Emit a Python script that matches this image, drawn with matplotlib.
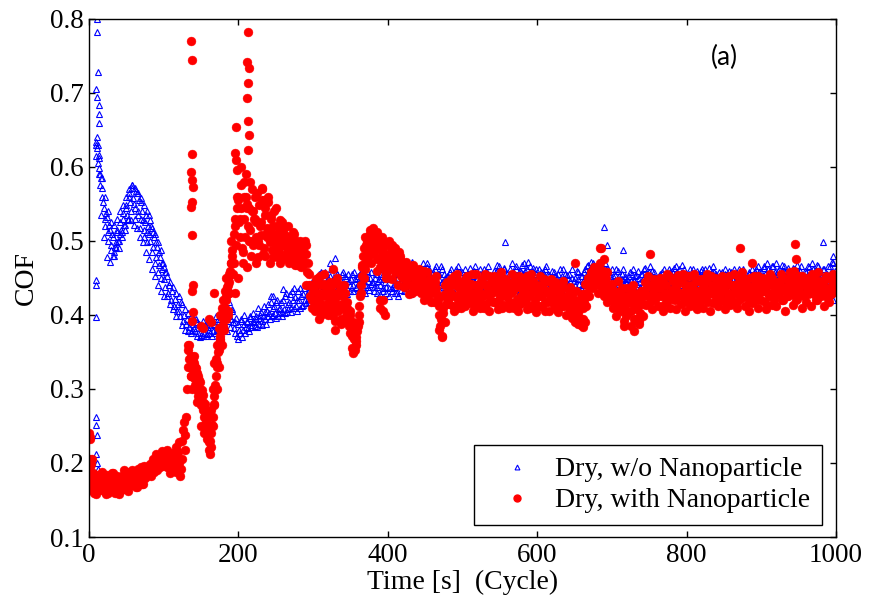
import numpy as np
import matplotlib
matplotlib.use("Agg")
import matplotlib.pyplot as plt
from matplotlib.lines import Line2D

# ---------------------------------------------------------------
# Coefficient of friction logged once per second; the readings are
# kept in two interleaved lists (even seconds 0..998, odd 1..999).
# ---------------------------------------------------------------
cof_plain_even = [
    0.163, 0.170, 0.166, 0.172, 0.168, 0.615, 0.630, 0.598, 0.585, 0.560,
    0.545, 0.520, 0.532, 0.500, 0.515, 0.488, 0.505, 0.480, 0.498, 0.512,
    0.490, 0.525, 0.505, 0.538, 0.515, 0.548, 0.528, 0.560, 0.540, 0.572,
    0.550, 0.530, 0.565, 0.540, 0.518, 0.552, 0.528, 0.505, 0.535, 0.512,
    0.535, 0.500, 0.518, 0.492, 0.510, 0.478, 0.498, 0.468, 0.488, 0.462,
    0.465, 0.438, 0.452, 0.430, 0.445, 0.420, 0.438, 0.412, 0.430, 0.405,
    0.425, 0.398, 0.415, 0.392, 0.408, 0.388, 0.402, 0.384, 0.398, 0.380,
    0.395, 0.378, 0.390, 0.375, 0.386, 0.373, 0.392, 0.376, 0.388, 0.374,
    0.390, 0.376, 0.394, 0.378, 0.386, 0.398, 0.380, 0.392, 0.378, 0.385,
    0.398, 0.384, 0.410, 0.392, 0.418, 0.395, 0.405, 0.382, 0.390, 0.372,
    0.388, 0.375, 0.395, 0.380, 0.400, 0.384, 0.392, 0.378, 0.398, 0.386,
    0.402, 0.385, 0.395, 0.410, 0.388, 0.404, 0.392, 0.412, 0.394, 0.406,
    0.415, 0.395, 0.425, 0.400, 0.412, 0.396, 0.420, 0.402, 0.410, 0.398,
    0.420, 0.402, 0.430, 0.408, 0.418, 0.404, 0.432, 0.410, 0.424, 0.406,
    0.432, 0.410, 0.426, 0.414, 0.436, 0.416, 0.428, 0.418, 0.438, 0.420,
    0.442, 0.422, 0.448, 0.428, 0.455, 0.432, 0.445, 0.425, 0.458, 0.435,
    0.450, 0.430, 0.462, 0.436, 0.445, 0.428, 0.455, 0.438, 0.448, 0.432,
    0.458, 0.436, 0.450, 0.428, 0.446, 0.440, 0.455, 0.432, 0.448, 0.438,
    0.452, 0.434, 0.458, 0.440, 0.446, 0.430, 0.460, 0.438, 0.450, 0.442,
    0.445, 0.432, 0.455, 0.438, 0.448, 0.428, 0.452, 0.436, 0.444, 0.430,
    0.448, 0.426, 0.455, 0.436, 0.442, 0.430, 0.450, 0.425, 0.446, 0.434,
    0.455, 0.432, 0.448, 0.440, 0.460, 0.428, 0.445, 0.436, 0.458, 0.438,
    0.450, 0.434, 0.462, 0.442, 0.455, 0.430, 0.465, 0.440, 0.452, 0.446,
    0.458, 0.436, 0.466, 0.444, 0.455, 0.432, 0.462, 0.440, 0.450, 0.446,
    0.452, 0.436, 0.462, 0.444, 0.430, 0.456, 0.440, 0.466, 0.448, 0.434,
    0.458, 0.442, 0.430, 0.454, 0.438, 0.464, 0.446, 0.432, 0.460, 0.440,
    0.450, 0.434, 0.462, 0.444, 0.456, 0.430, 0.448, 0.466, 0.438, 0.452,
    0.444, 0.460, 0.436, 0.468, 0.450, 0.432, 0.458, 0.442, 0.464, 0.446,
    0.438, 0.456, 0.444, 0.470, 0.452, 0.434, 0.462, 0.446, 0.430, 0.458,
    0.468, 0.448, 0.460, 0.436, 0.472, 0.452, 0.440, 0.464, 0.446, 0.456,
    0.442, 0.462, 0.450, 0.432, 0.458, 0.444, 0.466, 0.436, 0.454, 0.440,
    0.460, 0.438, 0.452, 0.430, 0.456, 0.444, 0.434, 0.462, 0.448, 0.436,
    0.454, 0.432, 0.446, 0.462, 0.438, 0.450, 0.428, 0.458, 0.442, 0.436,
    0.452, 0.440, 0.462, 0.446, 0.468, 0.450, 0.472, 0.444, 0.460, 0.448,
    0.466, 0.444, 0.472, 0.450, 0.476, 0.456, 0.462, 0.440, 0.458, 0.446,
    0.462, 0.440, 0.454, 0.436, 0.460, 0.446, 0.432, 0.456, 0.442, 0.450,
    0.448, 0.434, 0.458, 0.440, 0.462, 0.446, 0.454, 0.430, 0.450, 0.438,
    0.456, 0.442, 0.464, 0.448, 0.436, 0.458, 0.444, 0.460, 0.450, 0.434,
    0.446, 0.432, 0.456, 0.440, 0.450, 0.462, 0.436, 0.452, 0.444, 0.458,
    0.460, 0.442, 0.454, 0.466, 0.446, 0.462, 0.438, 0.468, 0.450, 0.444,
    0.452, 0.436, 0.462, 0.444, 0.456, 0.432, 0.450, 0.460, 0.440, 0.454,
    0.462, 0.446, 0.456, 0.438, 0.452, 0.464, 0.442, 0.458, 0.466, 0.448,
    0.455, 0.438, 0.448, 0.430, 0.458, 0.444, 0.462, 0.450, 0.436, 0.454,
    0.458, 0.442, 0.450, 0.434, 0.456, 0.462, 0.440, 0.452, 0.446, 0.436,
    0.448, 0.432, 0.456, 0.442, 0.462, 0.450, 0.458, 0.438, 0.466, 0.452,
    0.458, 0.444, 0.464, 0.448, 0.470, 0.452, 0.460, 0.442, 0.466, 0.450,
    0.455, 0.440, 0.462, 0.446, 0.468, 0.452, 0.458, 0.438, 0.464, 0.448,
    0.456, 0.440, 0.462, 0.446, 0.468, 0.450, 0.460, 0.444, 0.452, 0.436,
    0.458, 0.444, 0.465, 0.448, 0.470, 0.452, 0.460, 0.442, 0.466, 0.450,
    0.456, 0.440, 0.462, 0.446, 0.455, 0.436, 0.466, 0.450, 0.470, 0.452,
]

cof_plain_odd = [
    0.166, 0.168, 0.172, 0.175, 0.630, 0.640, 0.612, 0.590, 0.572, 0.552,
    0.530, 0.538, 0.512, 0.522, 0.495, 0.510, 0.485, 0.492, 0.515, 0.500,
    0.510, 0.515, 0.530, 0.522, 0.545, 0.535, 0.565, 0.552, 0.575, 0.558,
    0.545, 0.568, 0.535, 0.555, 0.530, 0.540, 0.515, 0.525, 0.498, 0.520,
    0.510, 0.520, 0.485, 0.505, 0.470, 0.492, 0.458, 0.478, 0.450, 0.470,
    0.448, 0.458, 0.425, 0.440, 0.415, 0.432, 0.408, 0.422, 0.398, 0.415,
    0.405, 0.418, 0.386, 0.400, 0.380, 0.395, 0.378, 0.392, 0.376, 0.388,
    0.382, 0.394, 0.372, 0.388, 0.370, 0.382, 0.371, 0.386, 0.372, 0.384,
    0.380, 0.390, 0.372, 0.388, 0.376, 0.384, 0.394, 0.378, 0.398, 0.382,
    0.388, 0.402, 0.378, 0.398, 0.384, 0.408, 0.390, 0.376, 0.396, 0.368,
    0.380, 0.392, 0.370, 0.388, 0.376, 0.390, 0.382, 0.396, 0.384, 0.392,
    0.390, 0.398, 0.384, 0.396, 0.400, 0.386, 0.398, 0.404, 0.388, 0.398,
    0.402, 0.418, 0.398, 0.410, 0.402, 0.418, 0.398, 0.408, 0.418, 0.404,
    0.408, 0.425, 0.404, 0.415, 0.428, 0.410, 0.420, 0.436, 0.412, 0.420,
    0.420, 0.436, 0.412, 0.428, 0.420, 0.440, 0.422, 0.432, 0.424, 0.445,
    0.430, 0.448, 0.426, 0.440, 0.436, 0.458, 0.430, 0.450, 0.436, 0.446,
    0.440, 0.452, 0.434, 0.448, 0.438, 0.458, 0.432, 0.444, 0.440, 0.455,
    0.442, 0.452, 0.436, 0.455, 0.432, 0.448, 0.440, 0.458, 0.436, 0.450,
    0.444, 0.456, 0.438, 0.450, 0.440, 0.452, 0.446, 0.434, 0.458, 0.444,
    0.438, 0.450, 0.430, 0.446, 0.440, 0.456, 0.432, 0.448, 0.438, 0.452,
    0.436, 0.448, 0.432, 0.452, 0.438, 0.444, 0.430, 0.455, 0.440, 0.446,
    0.442, 0.458, 0.436, 0.450, 0.440, 0.454, 0.432, 0.448, 0.444, 0.460,
    0.440, 0.455, 0.446, 0.470, 0.438, 0.452, 0.444, 0.462, 0.436, 0.456,
    0.446, 0.462, 0.440, 0.455, 0.448, 0.466, 0.444, 0.456, 0.438, 0.452,
    0.444, 0.458, 0.438, 0.452, 0.446, 0.462, 0.434, 0.450, 0.458, 0.442,
    0.450, 0.462, 0.440, 0.446, 0.456, 0.436, 0.452, 0.444, 0.466, 0.448,
    0.442, 0.456, 0.436, 0.450, 0.462, 0.440, 0.458, 0.446, 0.454, 0.438,
    0.452, 0.440, 0.458, 0.446, 0.466, 0.442, 0.450, 0.462, 0.438, 0.456,
    0.448, 0.462, 0.440, 0.458, 0.446, 0.466, 0.452, 0.442, 0.460, 0.450,
    0.456, 0.470, 0.444, 0.462, 0.452, 0.466, 0.446, 0.458, 0.440, 0.462,
    0.450, 0.444, 0.458, 0.438, 0.452, 0.462, 0.440, 0.456, 0.446, 0.432,
    0.446, 0.458, 0.440, 0.450, 0.438, 0.462, 0.452, 0.442, 0.456, 0.446,
    0.442, 0.456, 0.436, 0.450, 0.446, 0.440, 0.460, 0.448, 0.432, 0.452,
    0.446, 0.458, 0.452, 0.466, 0.456, 0.462, 0.450, 0.470, 0.454, 0.462,
    0.458, 0.470, 0.460, 0.466, 0.452, 0.470, 0.448, 0.462, 0.452, 0.440,
    0.452, 0.446, 0.462, 0.444, 0.452, 0.438, 0.448, 0.462, 0.452, 0.444,
    0.440, 0.452, 0.446, 0.456, 0.436, 0.452, 0.442, 0.460, 0.444, 0.456,
    0.448, 0.462, 0.438, 0.452, 0.444, 0.466, 0.450, 0.440, 0.458, 0.446,
    0.440, 0.452, 0.446, 0.458, 0.438, 0.448, 0.456, 0.442, 0.462, 0.450,
    0.452, 0.464, 0.446, 0.458, 0.450, 0.440, 0.456, 0.452, 0.462, 0.438,
    0.444, 0.456, 0.450, 0.438, 0.462, 0.446, 0.442, 0.456, 0.448, 0.460,
    0.454, 0.440, 0.462, 0.450, 0.444, 0.456, 0.450, 0.438, 0.458, 0.452,
    0.446, 0.458, 0.440, 0.452, 0.444, 0.456, 0.448, 0.440, 0.460, 0.446,
    0.450, 0.462, 0.444, 0.452, 0.440, 0.454, 0.446, 0.462, 0.438, 0.450,
    0.442, 0.458, 0.448, 0.436, 0.454, 0.444, 0.462, 0.450, 0.458, 0.444,
    0.452, 0.466, 0.456, 0.440, 0.462, 0.448, 0.452, 0.466, 0.444, 0.458,
    0.448, 0.460, 0.452, 0.438, 0.458, 0.466, 0.446, 0.452, 0.460, 0.440,
    0.450, 0.464, 0.452, 0.440, 0.458, 0.446, 0.466, 0.452, 0.444, 0.460,
    0.452, 0.466, 0.454, 0.440, 0.462, 0.448, 0.456, 0.468, 0.446, 0.458,
    0.448, 0.462, 0.452, 0.440, 0.466, 0.446, 0.458, 0.472, 0.444, 0.460,
]

cof_nano_even = [
    0.200, 0.178, 0.163, 0.186, 0.170, 0.158, 0.182, 0.166, 0.175, 0.188,
    0.162, 0.172, 0.184, 0.160, 0.177, 0.168, 0.186, 0.163, 0.174, 0.181,
    0.158, 0.170, 0.183, 0.165, 0.176, 0.188, 0.162, 0.179, 0.170, 0.190,
    0.174, 0.184, 0.168, 0.192, 0.178, 0.186, 0.172, 0.196, 0.182, 0.190,
    0.186, 0.198, 0.190, 0.206, 0.194, 0.212, 0.200, 0.208, 0.196, 0.216,
    0.204, 0.214, 0.194, 0.208, 0.186, 0.200, 0.212, 0.190, 0.222, 0.198,
    0.228, 0.182, 0.205, 0.245, 0.218, 0.262, 0.352, 0.340, 0.345, 0.328,
    0.335, 0.305, 0.322, 0.290, 0.310, 0.278, 0.292, 0.262, 0.270, 0.240,
    0.218, 0.212, 0.240, 0.262, 0.290, 0.318, 0.335, 0.352, 0.368, 0.385,
    0.395, 0.410, 0.425, 0.405, 0.445, 0.470, 0.488, 0.510, 0.530, 0.545,
    0.555, 0.505, 0.575, 0.485, 0.530, 0.590, 0.465, 0.545, 0.515, 0.570,
    0.495, 0.560, 0.525, 0.478, 0.548, 0.508, 0.572, 0.490, 0.535, 0.518,
    0.552, 0.498, 0.530, 0.478, 0.540, 0.505, 0.520, 0.485, 0.528, 0.495,
    0.515, 0.478, 0.505, 0.490, 0.470, 0.500, 0.483, 0.510, 0.468, 0.495,
    0.480, 0.500, 0.465, 0.488, 0.472, 0.495, 0.458, 0.440, 0.425, 0.410,
    0.432, 0.405, 0.448, 0.418, 0.395, 0.440, 0.425, 0.455, 0.410, 0.436,
    0.400, 0.445, 0.420, 0.462, 0.430, 0.392, 0.450, 0.412, 0.438, 0.388,
    0.425, 0.440, 0.398, 0.418, 0.385, 0.405, 0.372, 0.390, 0.352, 0.365,
    0.385, 0.412, 0.440, 0.468, 0.490, 0.462, 0.500, 0.478, 0.510, 0.470,
    0.500, 0.482, 0.508, 0.460, 0.492, 0.420, 0.485, 0.405, 0.470, 0.450,
    0.495, 0.462, 0.485, 0.448, 0.478, 0.458, 0.470, 0.440, 0.480, 0.452,
    0.465, 0.438, 0.472, 0.450, 0.428, 0.458, 0.440, 0.468, 0.432, 0.455,
    0.445, 0.462, 0.430, 0.452, 0.420, 0.440, 0.458, 0.425, 0.448, 0.418,
    0.440, 0.418, 0.452, 0.428, 0.400, 0.385, 0.370, 0.410, 0.440, 0.415,
    0.432, 0.415, 0.448, 0.425, 0.406, 0.440, 0.455, 0.420, 0.436, 0.410,
    0.445, 0.428, 0.412, 0.452, 0.434, 0.418, 0.442, 0.406, 0.430, 0.456,
    0.422, 0.438, 0.410, 0.448, 0.428, 0.455, 0.415, 0.435, 0.405, 0.444,
    0.430, 0.452, 0.418, 0.440, 0.408, 0.426, 0.458, 0.436, 0.414, 0.446,
    0.424, 0.410, 0.442, 0.455, 0.432, 0.416, 0.448, 0.406, 0.438, 0.425,
    0.450, 0.420, 0.436, 0.408, 0.444, 0.428, 0.456, 0.414, 0.432, 0.404,
    0.440, 0.425, 0.452, 0.412, 0.436, 0.418, 0.446, 0.430, 0.406, 0.448,
    0.428, 0.414, 0.445, 0.432, 0.404, 0.420, 0.440, 0.412, 0.436, 0.400,
    0.425, 0.410, 0.438, 0.396, 0.420, 0.390, 0.432, 0.402, 0.415, 0.386,
    0.428, 0.395, 0.442, 0.412, 0.450, 0.425, 0.458, 0.436, 0.465, 0.440,
    0.455, 0.430, 0.470, 0.445, 0.460, 0.425, 0.450, 0.418, 0.440, 0.428,
    0.442, 0.410, 0.430, 0.398, 0.446, 0.420, 0.405, 0.436, 0.392, 0.425,
    0.436, 0.402, 0.418, 0.385, 0.440, 0.412, 0.395, 0.428, 0.388, 0.420,
    0.432, 0.398, 0.445, 0.414, 0.452, 0.426, 0.440, 0.408, 0.448, 0.420,
    0.436, 0.412, 0.450, 0.425, 0.406, 0.442, 0.418, 0.455, 0.430, 0.410,
    0.448, 0.422, 0.436, 0.408, 0.454, 0.430, 0.415, 0.444, 0.426, 0.405,
    0.452, 0.434, 0.412, 0.440, 0.420, 0.456, 0.428, 0.408, 0.446, 0.418,
    0.435, 0.410, 0.448, 0.424, 0.455, 0.432, 0.406, 0.440, 0.416, 0.450,
    0.428, 0.412, 0.442, 0.420, 0.452, 0.436, 0.408, 0.446, 0.425, 0.414,
    0.440, 0.418, 0.455, 0.430, 0.410, 0.445, 0.422, 0.458, 0.434, 0.412,
    0.448, 0.426, 0.405, 0.438, 0.416, 0.452, 0.430, 0.444, 0.410, 0.436,
    0.420, 0.450, 0.432, 0.408, 0.446, 0.425, 0.456, 0.414, 0.440, 0.428,
    0.412, 0.445, 0.430, 0.455, 0.420, 0.438, 0.406, 0.448, 0.426, 0.458,
    0.436, 0.414, 0.460, 0.440, 0.422, 0.452, 0.430, 0.410, 0.446, 0.428,
    0.418, 0.450, 0.434, 0.412, 0.455, 0.428, 0.444, 0.420, 0.458, 0.436,
    0.425, 0.445, 0.412, 0.452, 0.432, 0.418, 0.448, 0.428, 0.455, 0.438,
]

cof_nano_odd = [
    0.195, 0.168, 0.176, 0.160, 0.184, 0.170, 0.163, 0.178, 0.186, 0.165,
    0.176, 0.158, 0.180, 0.170, 0.162, 0.186, 0.172, 0.160, 0.182, 0.166,
    0.178, 0.164, 0.174, 0.190, 0.168, 0.180, 0.186, 0.170, 0.184, 0.176,
    0.182, 0.168, 0.188, 0.176, 0.194, 0.172, 0.188, 0.180, 0.192, 0.184,
    0.194, 0.182, 0.200, 0.188, 0.202, 0.190, 0.206, 0.194, 0.210, 0.200,
    0.210, 0.196, 0.218, 0.200, 0.194, 0.214, 0.198, 0.208, 0.188, 0.215,
    0.200, 0.192, 0.230, 0.255, 0.238, 0.300, 0.360, 0.330, 0.318, 0.338,
    0.315, 0.328, 0.298, 0.312, 0.282, 0.298, 0.272, 0.280, 0.250, 0.262,
    0.228, 0.222, 0.252, 0.278, 0.305, 0.330, 0.350, 0.365, 0.380, 0.400,
    0.380, 0.420, 0.438, 0.430, 0.460, 0.480, 0.455, 0.520, 0.495, 0.560,
    0.525, 0.545, 0.490, 0.560, 0.505, 0.550, 0.520, 0.580, 0.480, 0.540,
    0.530, 0.505, 0.565, 0.495, 0.520, 0.555, 0.482, 0.545, 0.510, 0.560,
    0.515, 0.535, 0.488, 0.520, 0.500, 0.545, 0.478, 0.510, 0.498, 0.525,
    0.495, 0.508, 0.485, 0.520, 0.478, 0.498, 0.512, 0.475, 0.500, 0.485,
    0.470, 0.495, 0.478, 0.468, 0.500, 0.482, 0.470, 0.455, 0.440, 0.420,
    0.420, 0.440, 0.410, 0.430, 0.452, 0.415, 0.402, 0.442, 0.425, 0.405,
    0.428, 0.410, 0.440, 0.398, 0.418, 0.445, 0.405, 0.430, 0.395, 0.415,
    0.408, 0.430, 0.410, 0.395, 0.400, 0.385, 0.380, 0.368, 0.370, 0.378,
    0.400, 0.425, 0.452, 0.480, 0.470, 0.495, 0.485, 0.505, 0.490, 0.500,
    0.488, 0.505, 0.475, 0.498, 0.465, 0.500, 0.420, 0.480, 0.455, 0.468,
    0.482, 0.472, 0.495, 0.465, 0.488, 0.470, 0.460, 0.485, 0.458, 0.468,
    0.450, 0.460, 0.442, 0.465, 0.440, 0.452, 0.430, 0.458, 0.445, 0.436,
    0.452, 0.440, 0.445, 0.436, 0.460, 0.428, 0.446, 0.435, 0.432, 0.442,
    0.430, 0.445, 0.436, 0.420, 0.412, 0.395, 0.392, 0.425, 0.428, 0.445,
    0.422, 0.440, 0.430, 0.412, 0.452, 0.425, 0.410, 0.446, 0.428, 0.418,
    0.436, 0.420, 0.450, 0.416, 0.442, 0.426, 0.455, 0.412, 0.440, 0.422,
    0.432, 0.418, 0.446, 0.425, 0.410, 0.440, 0.428, 0.452, 0.420, 0.434,
    0.418, 0.440, 0.432, 0.450, 0.420, 0.444, 0.410, 0.430, 0.448, 0.426,
    0.436, 0.418, 0.430, 0.445, 0.410, 0.438, 0.422, 0.452, 0.415, 0.440,
    0.432, 0.440, 0.418, 0.452, 0.425, 0.410, 0.438, 0.446, 0.420, 0.436,
    0.428, 0.412, 0.440, 0.426, 0.448, 0.406, 0.432, 0.418, 0.444, 0.424,
    0.438, 0.422, 0.408, 0.440, 0.418, 0.428, 0.412, 0.446, 0.420, 0.414,
    0.418, 0.435, 0.405, 0.425, 0.398, 0.415, 0.408, 0.388, 0.422, 0.395,
    0.410, 0.418, 0.430, 0.425, 0.440, 0.438, 0.446, 0.452, 0.448, 0.455,
    0.442, 0.462, 0.452, 0.438, 0.445, 0.432, 0.458, 0.425, 0.435, 0.420,
    0.425, 0.432, 0.415, 0.420, 0.408, 0.432, 0.426, 0.415, 0.410, 0.398,
    0.418, 0.425, 0.405, 0.432, 0.395, 0.420, 0.408, 0.412, 0.402, 0.432,
    0.415, 0.425, 0.430, 0.438, 0.440, 0.418, 0.425, 0.430, 0.435, 0.442,
    0.425, 0.440, 0.436, 0.412, 0.448, 0.430, 0.440, 0.420, 0.452, 0.428,
    0.434, 0.445, 0.420, 0.440, 0.426, 0.448, 0.430, 0.455, 0.418, 0.438,
    0.440, 0.422, 0.452, 0.430, 0.436, 0.412, 0.446, 0.424, 0.432, 0.448,
    0.422, 0.440, 0.430, 0.446, 0.418, 0.434, 0.452, 0.428, 0.438, 0.420,
    0.436, 0.446, 0.426, 0.440, 0.432, 0.418, 0.448, 0.430, 0.452, 0.422,
    0.428, 0.440, 0.436, 0.418, 0.452, 0.430, 0.440, 0.424, 0.448, 0.432,
    0.440, 0.418, 0.450, 0.428, 0.436, 0.442, 0.420, 0.452, 0.430, 0.446,
    0.432, 0.440, 0.418, 0.446, 0.430, 0.440, 0.428, 0.450, 0.420, 0.436,
    0.440, 0.428, 0.446, 0.432, 0.420, 0.450, 0.436, 0.426, 0.440, 0.445,
    0.428, 0.450, 0.436, 0.420, 0.446, 0.432, 0.440, 0.452, 0.426, 0.440,
    0.436, 0.428, 0.448, 0.440, 0.430, 0.452, 0.420, 0.436, 0.446, 0.430,
    0.440, 0.430, 0.448, 0.436, 0.422, 0.450, 0.438, 0.430, 0.446, 0.440,
]

# Extra readings recorded between the regular samples (start-up spikes,
# running-in scatter, stick-slip bursts and isolated peaks)
extra_plain_time = [
    11, 11, 12, 10, 11, 14, 14, 14, 10, 11, 13, 12, 13, 15,
    9, 10, 10, 10, 10, 11, 9, 11, 12, 8,
    16, 20, 24, 28, 32, 36, 40, 44, 48, 52, 56, 60, 64, 68, 72, 76, 80,
    84, 88, 92, 96, 100,
    18, 22, 26, 30, 34, 38, 42, 46, 50, 54, 58, 62, 66, 70, 74, 78, 82,
    86, 90, 94, 98, 102,
    246, 260, 322, 330, 406, 432, 452,
    557, 690, 694, 715, 920, 982, 996, 996,
]
extra_plain_cof = [
    0.800, 0.782, 0.728, 0.705, 0.695, 0.684, 0.672, 0.659, 0.634, 0.625, 0.616, 0.605, 0.590, 0.575,
    0.447, 0.440, 0.397, 0.262, 0.251, 0.238, 0.212, 0.200, 0.192, 0.185,
    0.535, 0.505, 0.478, 0.472, 0.480, 0.490, 0.500, 0.512, 0.522, 0.530, 0.528,
    0.522, 0.518, 0.505, 0.498, 0.485, 0.475, 0.462, 0.452, 0.440, 0.432, 0.425,
    0.585, 0.560, 0.540, 0.525, 0.522, 0.530, 0.540, 0.548, 0.560, 0.570, 0.575,
    0.572, 0.565, 0.558, 0.548, 0.540, 0.528, 0.512, 0.498, 0.485, 0.470, 0.458,
    0.425, 0.435, 0.470, 0.477, 0.475, 0.472, 0.470,
    0.499, 0.519, 0.495, 0.488, 0.470, 0.499, 0.480, 0.420,
]

extra_nano_time = [
    # start-up
    0, 1, 2, 1, 3, 4,
    # first stick-slip burst
    137, 138, 138, 137, 138, 139, 138, 137, 138, 139, 138, 139, 138,
    # descending / recovering branch
    132, 134, 136, 138, 140, 142, 144, 146, 148, 150, 152, 154, 156, 158, 160,
    162, 164, 166, 168, 170, 172, 174, 176, 178, 180, 182, 184, 186, 188, 190,
    166, 168, 170, 172, 174, 176, 178, 180, 184, 186, 188,
    150, 153, 160, 164, 168,
    # second stick-slip burst
    213, 212, 214, 213, 212, 213, 214, 213, 197, 196, 197, 198,
    # high-friction plateau
    186, 190, 194, 198, 202, 206, 210, 214, 218, 222, 226, 230, 234, 238,
    242, 246, 250, 254, 258, 262, 266, 270, 274, 278, 282, 286, 290,
    192, 196, 200, 204, 208, 212, 216, 224, 232, 236, 244, 256,
    # transition region
    302, 306, 310, 314, 318, 322, 326, 330, 332, 336, 342, 346, 348, 350,
    352, 354, 356, 358, 362, 364, 366, 368, 370, 372, 374, 376, 378, 380,
    382, 384, 386, 388, 390, 392, 394, 396, 398, 402, 404, 408, 410, 412,
    416, 468, 472, 474, 476,
    # steady state peaks and dips
    651, 662, 664, 684, 686, 690, 716, 730, 736, 751, 871, 888, 945, 947,
]
extra_nano_cof = [
    0.240, 0.235, 0.232, 0.205, 0.198, 0.205,
    0.770, 0.745, 0.617, 0.593, 0.582, 0.573, 0.553, 0.546, 0.508, 0.440, 0.432, 0.404, 0.392,
    0.330, 0.360, 0.318, 0.300, 0.345, 0.330, 0.282, 0.318, 0.300, 0.250, 0.282, 0.240, 0.255, 0.232, 0.245,
    0.230, 0.272, 0.300, 0.335, 0.300, 0.360, 0.382, 0.372, 0.410, 0.385, 0.432, 0.395, 0.440, 0.455, 0.470,
    0.250, 0.280, 0.340, 0.300, 0.330, 0.400, 0.360, 0.420, 0.450, 0.400, 0.430,
    0.385, 0.383, 0.395, 0.390, 0.430,
    0.782, 0.742, 0.734, 0.713, 0.693, 0.662, 0.643, 0.623, 0.654, 0.619, 0.610, 0.596,
    0.450, 0.500, 0.470, 0.560, 0.530, 0.470, 0.560, 0.500, 0.540, 0.530, 0.500, 0.525, 0.555, 0.505,
    0.470, 0.510, 0.492, 0.512, 0.475, 0.498, 0.478, 0.505, 0.490, 0.468, 0.478, 0.470, 0.440,
    0.470, 0.430, 0.450, 0.600, 0.580, 0.545, 0.500, 0.470, 0.570, 0.480, 0.510, 0.470,
    0.420, 0.450, 0.400, 0.430, 0.415, 0.430, 0.405, 0.380, 0.425, 0.440, 0.410, 0.390, 0.400, 0.375,
    0.355, 0.348, 0.370, 0.360, 0.390, 0.430, 0.465, 0.450, 0.505, 0.490, 0.480, 0.515, 0.495, 0.518,
    0.505, 0.490, 0.512, 0.475, 0.410, 0.505, 0.490, 0.400, 0.460, 0.500, 0.480, 0.490, 0.490, 0.465,
    0.475, 0.380, 0.372, 0.403, 0.390,
    0.470, 0.384, 0.390, 0.490, 0.490, 0.475, 0.385, 0.378, 0.392, 0.483, 0.490, 0.470, 0.496, 0.475,
]

label_plain = "Dry, w/o Nanoparticle"
label_nano = "Dry, with Nanoparticle"
x_ticks = [0, 200, 400, 600, 800, 1000]
y_ticks = [0.1, 0.2, 0.3, 0.4, 0.5, 0.6, 0.7, 0.8]

# time stamps of the interleaved lists
t_plain_even = np.arange(len(cof_plain_even)) * 2
t_plain_odd = np.arange(len(cof_plain_odd)) * 2 + 1
t_nano_even = np.arange(len(cof_nano_even)) * 2
t_nano_odd = np.arange(len(cof_nano_odd)) * 2 + 1

time_plain = np.concatenate([t_plain_even, t_plain_odd, extra_plain_time])
cof_plain = np.concatenate([cof_plain_even, cof_plain_odd, extra_plain_cof])
time_nano = np.concatenate([t_nano_even, t_nano_odd, extra_nano_time])
cof_nano = np.concatenate([cof_nano_even, cof_nano_odd, extra_nano_cof])

# ---------------------------------------------------------------
plt.rcParams["font.family"] = ["Liberation Serif", "DejaVu Serif"]

fig = plt.figure(figsize=(8.69, 6.11), dpi=100)
ax = fig.add_axes([0.1024, 0.1211, 0.8596, 0.848])

blue = (0.0, 0.0, 1.0)
red = (1.0, 0.0, 0.0)

ax.plot(time_plain, cof_plain, linestyle="none", marker="^",
        markersize=4.4, markerfacecolor="none", markeredgecolor=blue,
        markeredgewidth=0.8)
ax.plot(time_nano, cof_nano, linestyle="none", marker="o",
        markersize=6.4, markerfacecolor=red, markeredgecolor=red,
        markeredgewidth=0.3)

ax.set_xlim(0, 1000)
ax.set_ylim(0.1, 0.8)
ax.set_xticks(x_ticks)
ax.set_yticks(y_ticks)
ax.set_xticklabels([str(v) for v in x_ticks])
ax.set_yticklabels([f"{v:.1f}" for v in y_ticks])

ax.tick_params(axis="both", which="both", direction="in", length=4,
               width=1.0, top=True, right=True, labelsize=19.5, pad=4)
for sp in ax.spines.values():
    sp.set_linewidth(1.0)
    sp.set_color("black")

ax.set_xlabel("Time [s]  (Cycle)", fontsize=20, labelpad=2)
ax.set_ylabel("COF", fontsize=20, labelpad=8)

ax.text(0.851, 0.925, "(a)", transform=ax.transAxes, ha="center",
        va="center", fontsize=19, family=["Lato", "DejaVu Sans"])

handles = [
    Line2D([], [], linestyle="none", marker="^", markersize=3.5,
           markerfacecolor="none", markeredgecolor=blue, markeredgewidth=0.8),
    Line2D([], [], linestyle="none", marker="o", markersize=5,
           markerfacecolor=red, markeredgecolor=red),
]
leg = ax.legend(handles, [label_plain, label_nano], loc="lower right",
                bbox_to_anchor=(0.981, 0.023), borderaxespad=0.0,
                fontsize=20, frameon=True, fancybox=False, framealpha=1.0,
                edgecolor="black", handlelength=2.3, handletextpad=0.2,
                borderpad=0.42, labelspacing=0.2)
leg.get_frame().set_linewidth(1.0)

fig.savefig("out.png", dpi=100)
